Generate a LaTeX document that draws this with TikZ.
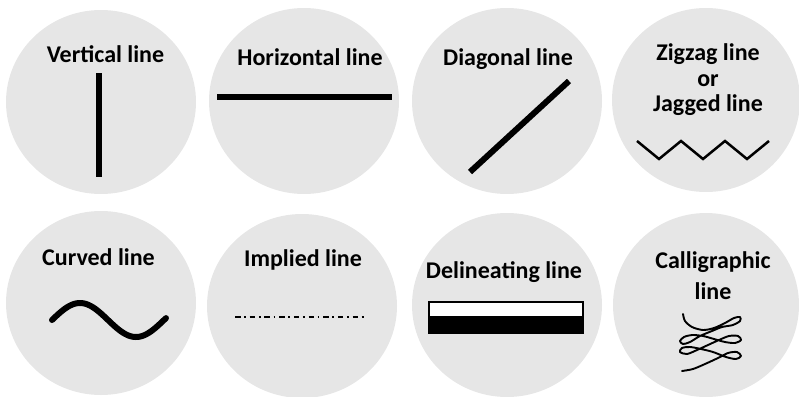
\documentclass[tikz,border=0pt]{standalone}
\usepackage{fontspec}
\setmainfont{Carlito}
\begin{document}
\begin{tikzpicture}[x=1pt,y=-1pt,
  circ/.style={fill=circgray},
  lbl/.style={font=\bfseries\fontsize{24}{24}\selectfont, anchor=base, inner sep=0pt, align=center},
  thick line/.style={line width=6pt}]
\definecolor{circgray}{RGB}{230,230,230}
\useasboundingbox (0,0) rectangle (799,396);
% circles
\path[circ] (101,102) ellipse [x radius=95, y radius=92];
\path[circ] (304,101) ellipse [x radius=95, y radius=93];
\path[circ] (507,101) ellipse [x radius=95, y radius=93];
\path[circ] (706,100) ellipse [x radius=94, y radius=92];
\path[circ] (101,303) ellipse [x radius=95, y radius=92];
\path[circ] (302,306) ellipse [x radius=95, y radius=92];
\path[circ] (507,305) ellipse [x radius=95, y radius=92];
\path[circ] (706,305) ellipse [x radius=93, y radius=92];
% labels
\node[lbl] (t1) at (105.5,63) {Vertical line};
\node[lbl] (t2) at (310,65.5) {Horizontal line};
\node[lbl] (t3) at (508,65.5) {Diagonal line};
\node[lbl, anchor=north, font=\bfseries\fontsize{24}{25.5}\selectfont] (t4) at (708,43.5) {Zigzag line\\or\\Jagged line};
\node[lbl] (t5) at (98.5,265) {Curved line};
\node[lbl] (t6) at (303,266.5) {Implied line};
\node[lbl] (t7) at (504,278) {Delineating line};
\node[lbl, anchor=north, font=\bfseries\fontsize{24}{31}\selectfont] (t8) at (713,251) {Calligraphic\\line};
% vertical
\draw[thick line] (99,73) -- (99,177);
% horizontal
\draw[thick line] (217,97) -- (392,97);
% diagonal
\draw[thick line] (470,172) -- (569,81);
% zigzag
\draw[line width=2.5pt, line join=miter] (637,141) -- (659,159) -- (681,141) -- (703,159) -- (725,141) -- (747,159) -- (769,141);
% curved
\draw[line width=6pt, line cap=round] plot[domain=52:166, samples=80, smooth] (\x, {320 - 17*sin((\x-52)*3.2143)});
% implied
\draw[line width=1.4pt, dash pattern=on 5.5pt off 3.6pt on 1.8pt off 3.8pt] (235,317) -- (365,317);
% delineating
\fill[black] (428,317) rectangle (584,334);
\filldraw[fill=white, draw=black, line width=2pt] (429,302) rectangle (583,317);
% calligraphic
\draw[line width=1.9pt, line cap=round, line join=round] plot[smooth, tension=0.5] coordinates {
 (683,314) (685,321) (692,327) (703,330) (714,328) (725,323) (734,318) (740,317) (740,321)
 (733,325) (722,327) (712,331) (700,336) (690,342) (683,344) (680,341) (684,337) (692,335)
 (703,336) (714,339) (725,342) (735,343) (741,340) (738,336) (729,336) (719,340) (708,345)
 (697,350) (687,354) (680,352) (682,348) (690,347) (701,349) (713,352) (726,357) (736,359)
 (741,356) (737,352) (728,353) (718,358) (705,364) (693,369) (682,371)};
\end{tikzpicture}
\end{document}
